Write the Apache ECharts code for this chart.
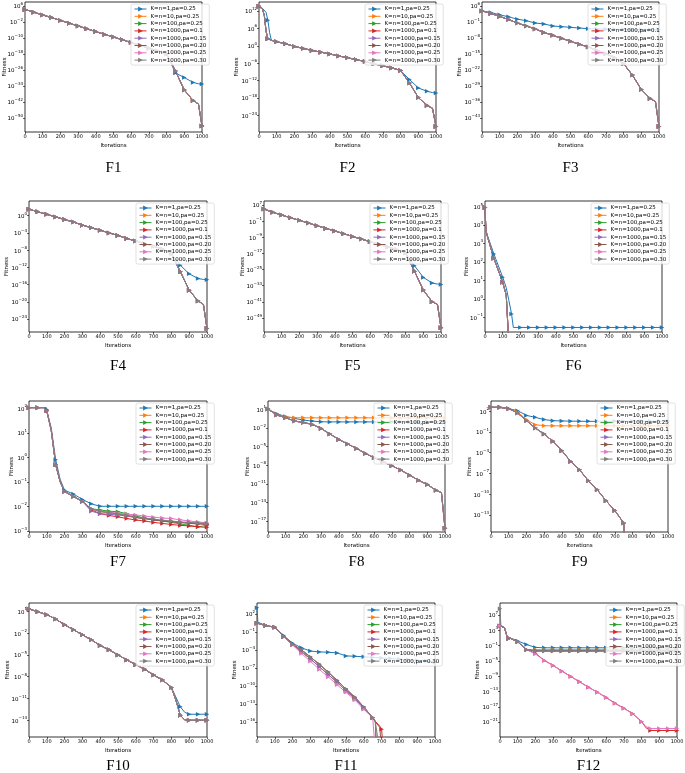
<!DOCTYPE html>
<html><head><meta charset="utf-8">
<script src="https://cdn.jsdelivr.net/npm/echarts@6/dist/echarts.min.js"></script>
<style>html,body{margin:0;padding:0;background:#fff}#c{width:685px;height:773px}</style>
</head><body><div id="c"></div>
<script>
const SERIES_NAMES = ['K=n=1,pa=0.25','K=n=10,pa=0.25','K=n=100,pa=0.25','K=n=1000,pa=0.1','K=n=1000,pa=0.15','K=n=1000,pa=0.20','K=n=1000,pa=0.25','K=n=1000,pa=0.30'];
const COLORS = ['#1f77b4','#ff7f0e','#2ca02c','#d62728','#9467bd','#8c564b','#e377c2','#7f7f7f'];

// ---- F1 ----
const F1_X = [0,50,100,150,200,250,300,350,400,450,500,550,600,650,700,750,800,850,900,950,980,1000];
const F1_K1 = [2e4,7.9e2,31.6,1.58,6.3e-2,2.5e-3,1e-4,4e-6,1.58e-7,6.3e-9,3.16e-10,1.26e-11,5e-13,2e-14,7.9e-16,3.16e-17,1e-18,3.16e-28,1.58e-30,6.3e-33,1.26e-33,1e-33];
const F1_REST = [2e4,7.9e2,31.6,1.58,6.3e-2,2.5e-3,1e-4,4e-6,1.58e-7,6.3e-9,3.16e-10,1.26e-11,5e-13,2e-14,7.9e-16,3.16e-17,1e-18,3.16e-27,1e-36,5e-42,1e-43,1e-54];
const F1_YTICKS = [6,-2,-10,-18,-26,-34,-42,-50];

// ---- F2 ----
const F2_X = [0,10,20,30,40,50,60,70,100,150,200,250,300,350,400,450,500,550,600,650,700,750,800,850,900,950,980,1000];
const F2_K1 = [3.16e13,2e13,7.9e12,2e12,3.16e11,6.3e8,3.16e4,79,31.6,5,0.63,0.126,2.5e-2,6.3e-3,1.58e-3,3.16e-4,7.9e-5,1.58e-5,4e-6,6.3e-7,1.26e-7,2.5e-8,3.16e-9,2.5e-12,3.16e-15,2e-16,7.9e-17,5e-17];
const F2_REST = [4e13,1.58e13,4e12,3.16e10,1e5,2.5e2,1.26e2,79,25,5,0.63,0.126,2.5e-2,6.3e-3,1.58e-3,3.16e-4,7.9e-5,1.58e-5,4e-6,6.3e-7,1.26e-7,2.5e-8,3.16e-9,1.58e-13,1.58e-18,2.5e-21,3.16e-22,1.58e-28];
const F2_YTICKS = [12,6,0,-6,-12,-18,-24];

// ---- F3 ----
const F3_X = [0,50,100,150,200,250,300,350,400,450,500,550,600,650,700,750,800,850,900,950,980,1000];
const F3_K1 = [6.3e3,1.26e3,126,15.8,1.58,0.316,3.16e-2,1.26e-2,1.58e-3,7.9e-4,4e-4,2e-4,1e-4,7.9e-5,6.3e-5,5e-5,5e-5,4e-5,4e-5,3.16e-5,3.16e-5,3.16e-5];
const F3_REST = [6.3e3,5e2,25,1,3.16e-2,1.58e-3,7.9e-5,2.5e-6,1.26e-7,6.3e-9,3.16e-10,1.58e-11,1e-12,3.16e-14,1e-15,2e-17,5e-20,5e-25,2.5e-31,3.16e-35,1.26e-36,1.58e-47];
const F3_YTICKS = [6,-1,-8,-15,-22,-29,-36,-43];

// ---- F4 ----
const F4_X = [0,50,100,150,200,250,300,350,400,450,500,550,600,650,700,750,800,850,900,950,980,1000];
const F4_K1 = [31.6,7.9,2,0.5,0.126,3.16e-2,6.3e-3,1.58e-3,4e-4,1e-4,2.5e-5,5e-6,1.26e-6,3.16e-7,7.9e-8,1.58e-8,1.58e-9,3.16e-12,3.16e-14,2.5e-15,1.58e-15,1.26e-15];
const F4_REST = [31.6,7.9,2,0.5,0.126,3.16e-2,6.3e-3,1.58e-3,4e-4,1e-4,2.5e-5,5e-6,1.26e-6,3.16e-7,7.9e-8,1.58e-8,1.58e-9,1e-13,5e-18,1.58e-20,2.5e-21,6.3e-27];
const F4_YTICKS = [0,-4,-8,-12,-16,-20,-24];

// ---- F5 ----
const F5_X = [0,50,100,150,200,250,300,350,400,450,500,550,600,650,700,750,800,850,900,950,980,1000];
const F5_K1 = [1e5,2.5e3,100,5,0.25,1.26e-2,5e-4,2.5e-5,1.26e-6,6.3e-8,2.5e-9,1.26e-10,6.3e-12,3.16e-13,1.58e-14,6.3e-16,1.58e-17,7.9e-24,1.26e-29,2e-32,6.3e-33,4e-33];
const F5_REST = [1e5,2.5e3,100,5,0.25,1.26e-2,5e-4,2.5e-5,1.26e-6,6.3e-8,2.5e-9,1.26e-10,6.3e-12,3.16e-13,1.58e-14,6.3e-16,1.58e-17,1.58e-26,6.3e-36,1e-41,5e-43,1.26e-54];
const F5_YTICKS = [7,-1,-9,-17,-25,-33,-41,-49];

// ---- F6 ----
const F6_X = [0,5,10,50,100,120,135,150,160,200,250,300,350,400,450,500,550,600,650,700,750,800,850,900,950,1000];
const F6_K1 = [8.9e4,6.3e3,3.5e3,2.7e2,14.8,4,0.79,0.151,2.8e-2,2.8e-2,2.8e-2,2.8e-2,2.8e-2,2.8e-2,2.8e-2,2.8e-2,2.8e-2,2.8e-2,2.8e-2,2.8e-2,2.8e-2,2.8e-2,2.8e-2,2.8e-2,2.8e-2,2.8e-2];
const F6_REST = [8.9e4,5.6e3,3.16e3,158,7.9,1.58,3.16e-3];
const F6_YTICKS = [5,4,3,2,1,0,-1];

// ---- F7 ----
const F7_X = [0,50,95,100,125,150,175,200,250,300,350,400,450,500,550,600,650,700,750,800,850,900,950,1000];
const F7_K1 = [107,107,107,89,15.8,0.79,0.126,4.5e-2,3.16e-2,1.9e-2,1.26e-2,1e-2,1e-2,1e-2,1e-2,1e-2,1e-2,1e-2,1e-2,1e-2,1e-2,1e-2,1e-2,1e-2];
const F7_K10 = [107,107,107,79,12.6,0.5,0.1,4e-2,2.5e-2,1.58e-2,7.9e-3,6.3e-3,5.2e-3,4.7e-3,4e-3,3.5e-3,3.16e-3,2.8e-3,2.6e-3,2.4e-3,2.2e-3,2.1e-3,2e-3,1.9e-3];
const F7_K100 = [107,107,107,79,12.6,0.5,0.1,4e-2,2.5e-2,1.58e-2,7.9e-3,7.1e-3,6.3e-3,6e-3,5e-3,4e-3,3.3e-3,2.8e-3,2.5e-3,2.2e-3,1.9e-3,1.66e-3,1.45e-3,1.66e-3];
const F7_PA10 = [107,107,107,79,12.6,0.5,0.1,4e-2,2.5e-2,1.58e-2,7.1e-3,5e-3,4.2e-3,3.7e-3,3.16e-3,2.75e-3,2.5e-3,2.2e-3,2e-3,1.8e-3,1.66e-3,1.58e-3,1.45e-3,1.38e-3];
const F7_PA15 = [107,107,107,79,12.6,0.5,0.1,4e-2,2.5e-2,1.58e-2,6.3e-3,5e-3,4.7e-3,4.4e-3,4e-3,3.5e-3,3.16e-3,2.8e-3,2.5e-3,2.4e-3,2.2e-3,2.1e-3,2e-3,1.9e-3];
const F7_PA20 = [107,107,107,79,12.6,0.5,0.1,4e-2,2.5e-2,1.58e-2,7.9e-3,6e-3,5.6e-3,5e-3,4.2e-3,3.5e-3,3.16e-3,2.8e-3,2.5e-3,2.3e-3,2.2e-3,2e-3,1.9e-3,1.8e-3];
const F7_PA25 = [107,107,107,79,12.6,0.5,0.1,4e-2,2.5e-2,1.58e-2,7.9e-3,6.3e-3,5.6e-3,5.2e-3,4.8e-3,4.4e-3,4e-3,3.6e-3,3.3e-3,3.16e-3,2.8e-3,2.5e-3,2.3e-3,2.1e-3];
const F7_PA30 = [107,107,107,79,12.6,0.5,0.1,4e-2,2.5e-2,1.58e-2,7.9e-3,6.3e-3,5.5e-3,4.8e-3,4.2e-3,3.7e-3,3.3e-3,3e-3,2.7e-3,2.5e-3,2.3e-3,2.2e-3,2.1e-3,2e-3];
const F7_YTICKS = [2,1,0,-1,-2,-3];

// ---- F8 ----
const F8_X = [0,50,100,150,200,250,300,350,400,450,500,550,600,650,700,750,800,850,900,950,980,1000];
const F8_K1 = [10,1.78,0.66,0.316,0.174,0.12,9.3e-2,8.9e-2,8.9e-2,8.9e-2,8.9e-2,8.9e-2,8.9e-2,8.9e-2,8.9e-2,8.9e-2,8.9e-2,8.9e-2,8.9e-2,8.9e-2,8.9e-2,8.9e-2];
const F8_K10 = [10,1.41,0.59,0.41,0.4,0.4,0.4,0.4,0.4,0.4,0.4,0.4,0.4,0.4,0.4,0.4,0.4,0.4,0.4,0.4,0.4,0.4];
const F8_REST = [10,1.1,0.41,0.12,7.2e-2,3.5e-2,7.9e-3,1e-3,1.38e-4,2.5e-5,5e-6,7.9e-7,1.58e-7,3.6e-8,8.3e-9,1.66e-9,2.6e-10,4e-11,7.9e-12,1e-12,4e-13,7.9e-19];
const F8_YTICKS = [1,-2,-5,-8,-11,-14,-17];

// ---- F9 ----
const F9_X = [0,50,100,150,200,250,300,350,400,450,500,550,600,650,700,750,755,800,850,900,950,1000];
const F9_K1 = [380,380,245,126,26,13.5,6.3,4.5,4,3.8,3.6,3.55,3.55,3.55,3.55,3.55,3.55,3.55,3.55,3.55,3.55,3.55];
const F9_K10 = [380,380,245,79,6.3,1.15,0.83,0.79,0.79,0.79,0.79,0.79,0.79,0.79,0.79,0.79,0.79,0.79,0.79,0.79,0.79,0.79];
const F9_REST = [380,380,245,58,4.5,0.38,5e-2,4.5e-3,2e-4,5.5e-6,3.4e-7,8.7e-9,4.3e-10,1.07e-11,4e-13,6.3e-15,1e-17];
const F9_YTICKS = [2,-1,-4,-7,-10,-13];

// ---- F10 ----
const F10_X = [0,50,100,150,200,250,300,350,400,450,500,550,600,650,700,750,800,825,850,875,900,950,1000];
const F10_K1 = [20.9,8.9,3.47,0.87,0.141,2.9e-2,5.9e-3,1.2e-3,2e-4,5e-5,1e-5,2e-6,4.6e-7,1.05e-7,1.7e-8,3.5e-9,3.3e-10,1.58e-11,7.1e-13,1.26e-13,6.8e-14,6.8e-14,6.8e-14];
const F10_REST = [20.9,8.9,3.47,0.87,0.141,2.9e-2,5.9e-3,1.2e-3,2e-4,5e-5,1e-5,2e-6,4.6e-7,1.05e-7,1.7e-8,3.5e-9,3.3e-10,6.3e-12,5e-14,1.12e-14,1e-14,1e-14,1e-14];
const F10_YTICKS = [1,-2,-5,-8,-11,-14];

// ---- F11 ----
const F11_X = [0,5,50,100,150,200,250,300,350,400,450,500,550,600,650,665,670,690,700,705,710,750,800,850,900,950,1000];
const F11_K1 = [1000,4,1.1,0.575,2.5e-2,1.26e-3,2.2e-4,6.3e-5,4.6e-5,4e-5,3.16e-5,1e-5,8.5e-6,7.1e-6,5.6e-6,5.2e-6,5e-6,4.7e-6,4.5e-6,4.4e-6,4.3e-6,3.5e-6,2.8e-6,2.2e-6,1.78e-6,1.41e-6,1e-6];
const F11_MID = [2.8,2.6,1.1,0.575,1.58e-2,7.9e-4,5e-5,3.16e-6,1.58e-7,7.9e-9,4e-10,1.58e-11,7.9e-13,2e-14,5e-16,1.26e-16,1e-21];
const F11_PA10 = [2.8,2.6,1.1,0.575,1.58e-2,7.9e-4,1e-4,6.3e-6,4e-7,2e-8,7.9e-10,3.16e-11,1.26e-12,3.16e-14,5e-16,1.26e-16,7.9e-17,2e-17,6.3e-18,5e-18,1e-21];
const F11_PA20 = [2.8,2.6,1.1,0.575,1.58e-2,7.9e-4,1e-4,6.3e-6,4e-7,2e-8,7.9e-10,3.16e-11,1.26e-12,3.16e-14,5e-16,1e-16,6.3e-17,1.26e-17,1e-21];
const F11_PA25 = [2.8,2.6,1.1,0.575,1.58e-2,6.3e-4,2.5e-5,1.26e-6,5.6e-8,3.16e-9,1.58e-10,8.5e-12,4.4e-13,1.26e-14,5e-16,1e-21];
const F11_PA30 = [2.8,2.6,1.1,0.575,1.58e-2,7.9e-4,1e-4,6.3e-6,4e-7,2e-8,7.9e-10,3.16e-11,1.26e-12,3.16e-14,5e-16,1e-16,5e-17,1e-21];
const F11_YTICKS = [2,-1,-4,-7,-10,-13,-16];

// ---- F12 ----
const F12_X = [0,5,10,25,40,50,100,150,200,250,300,350,400,450,500,550,600,650,700,750,800,825,850,900,950,1000];
const F12_K1 = [1.26e4,1.58e4,1.58e4,5e3,20,6.9,1.58,0.178,3.16e-2,2.5e-2,2.5e-2,2.5e-2,2.5e-2,2.5e-2,2.5e-2,2.5e-2,2.5e-2,2.5e-2,2.5e-2,2.5e-2,2.5e-2,2.5e-2,2.5e-2,2.5e-2,2.5e-2,2.5e-2];
const F12_K10 = [1.26e4,1.58e4,1.58e4,5e3,20,6.9,0.91,7.9e-3,7.9e-3,7.9e-3,7.9e-3,7.9e-3,7.9e-3,7.9e-3,7.9e-3,7.9e-3,7.9e-3,7.9e-3,7.9e-3,7.9e-3,7.9e-3,7.9e-3,7.9e-3,7.9e-3,7.9e-3,7.9e-3];
const F12_K100 = [1.26e4,1.58e4,1.58e4,5e3,20,6.9,0.91,7.9e-3,5e-3,5e-3,5e-3,5e-3,5e-3,5e-3,5e-3,5e-3,5e-3,5e-3,5e-3,5e-3,5e-3,5e-3,5e-3,5e-3,5e-3,5e-3];
const F12_PA10 = [1.26e4,1.58e4,1.58e4,5e3,20,6.9,0.91,7.9e-3,1e-3,1.26e-5,6.3e-7,2e-8,7.9e-10,3.16e-11,1.26e-12,6.3e-14,2.5e-15,7.9e-17,4e-18,1.58e-19,1.26e-21,3.16e-23,6.3e-24,6.3e-24,6.3e-24,6.3e-24];
const F12_PA15 = [1.26e4,1.58e4,1.58e4,5e3,20,6.9,0.91,7.9e-3,4e-3,4e-3,4e-3,4e-3,4e-3,4e-3,4e-3,4e-3,4e-3,4e-3,4e-3,4e-3,4e-3,4e-3,4e-3,4e-3,4e-3,4e-3];
const F12_PA20 = [1.26e4,1.58e4,1.58e4,5e3,20,6.9,0.91,7.9e-3,3.5e-3,3.5e-3,3.5e-3,3.5e-3,3.5e-3,3.5e-3,3.5e-3,3.5e-3,3.5e-3,3.5e-3,3.5e-3,3.5e-3,3.5e-3,3.5e-3,3.5e-3,3.5e-3,3.5e-3,3.5e-3];
const F12_PA25 = [1.26e4,1.58e4,1.58e4,5e3,20,6.9,0.91,7.9e-3,6.3e-4,1.26e-5,6.3e-7,2e-8,7.9e-10,3.16e-11,1.26e-12,6.3e-14,2.5e-15,7.9e-17,4e-18,1.58e-19,1.26e-21,6.3e-23,2e-23,2e-23,2e-23,2e-23];
const F12_PA30 = [4e8,1.58e4,1.58e4,5e3,20,6.9,0.91,7.9e-3,3.8e-3,3.8e-3,3.8e-3,3.8e-3,3.8e-3,3.8e-3,3.8e-3,3.8e-3,3.8e-3,3.8e-3,3.8e-3,3.8e-3,3.8e-3,3.8e-3,3.8e-3,3.8e-3,3.8e-3,3.8e-3];
const F12_YTICKS = [7,3,-1,-5,-9,-13,-17,-21];

// ---- layout (positions / styles) ----
const PANELS = [
  {label:'F1',  x:F1_X,  ys:[F1_K1,F1_REST,F1_REST,F1_REST,F1_REST,F1_REST,F1_REST,F1_REST], yMin:-57, yMax:8, ticks:F1_YTICKS, g:[25,2,177,130], gap:17, ly:168},
  {label:'F2',  x:F2_X,  ys:[F2_K1,F2_REST,F2_REST,F2_REST,F2_REST,F2_REST,F2_REST,F2_REST], yMin:-29.7, yMax:15.1, ticks:F2_YTICKS, g:[259,2,177,130], gap:19, ly:168},
  {label:'F3',  x:F3_X,  ys:[F3_K1,F3_REST,F3_REST,F3_REST,F3_REST,F3_REST,F3_REST,F3_REST], yMin:-49.2, yMax:7.7, ticks:F3_YTICKS, g:[482,2,177,130], gap:19, ly:168},
  {label:'F4',  x:F4_X,  ys:[F4_K1,F4_REST,F4_REST,F4_REST,F4_REST,F4_REST,F4_REST,F4_REST], yMin:-27, yMax:3.4, ticks:F4_YTICKS, g:[29,201,178,131], gap:19, ly:366},
  {label:'F5',  x:F5_X,  ys:[F5_K1,F5_REST,F5_REST,F5_REST,F5_REST,F5_REST,F5_REST,F5_REST], yMin:-56, yMax:9, ticks:F5_YTICKS, g:[264,201,177,131], gap:18, ly:366},
  {label:'F6',  x:F6_X,  ys:[F6_K1,F6_REST,F6_REST,F6_REST,F6_REST,F6_REST,F6_REST,F6_REST], yMin:-1.8, yMax:5.3, ticks:F6_YTICKS, g:[485,201,177,131], gap:15, ly:366},
  {label:'F7',  x:F7_X,  ys:[F7_K1,F7_K10,F7_K100,F7_PA10,F7_PA15,F7_PA20,F7_PA25,F7_PA30], yMin:-3.05, yMax:2.3, ticks:F7_YTICKS, g:[29,401,178,131], gap:14, ly:562},
  {label:'F8',  x:F8_X,  ys:[F8_K1,F8_K10,F8_REST,F8_REST,F8_REST,F8_REST,F8_REST,F8_REST], yMin:-18.7, yMax:2.3, ticks:F8_YTICKS, g:[268,401,177,131], gap:17, ly:562},
  {label:'F9',  x:F9_X,  ys:[F9_K1,F9_K10,F9_REST,F9_REST,F9_REST,F9_REST,F9_REST,F9_REST], yMin:-15.5, yMax:3.5, ticks:F9_YTICKS, g:[491,401,177,131], gap:18, ly:562},
  {label:'F10', x:F10_X, ys:[F10_K1,F10_REST,F10_REST,F10_REST,F10_REST,F10_REST,F10_REST,F10_REST], yMin:-16.3, yMax:2.15, ticks:F10_YTICKS, g:[29,603,178,134], gap:18, ly:766},
  {label:'F11', x:F11_X, ys:[F11_K1,F11_MID,F11_MID,F11_PA10,F11_MID,F11_PA20,F11_PA25,F11_PA30], yMin:-18.5, yMax:3.8, ticks:F11_YTICKS, g:[257,603,178,134], gap:19, ly:766},
  {label:'F12', x:F12_X, ys:[F12_K1,F12_K10,F12_K100,F12_PA10,F12_PA15,F12_PA20,F12_PA25,F12_PA30], yMin:-24.9, yMax:10.1, ticks:F12_YTICKS, g:[500,603,177,134], gap:19, ly:766}
];

const FONT = 'DejaVu Sans';
const supLabel = v => {
  const e = Math.round(v);
  return '{b|10}{s|' + (e < 0 ? '\u2212' + (-e) : e) + '}';
};

const grid = [], xAxis = [], yAxis = [], series = [], legend = [], graphic = [];
PANELS.forEach((p, i) => {
  const [l, t, w, h] = p.g;
  grid.push({left:l, top:t, width:w, height:h, show:true, borderColor:'#000', borderWidth:0.8,
             backgroundColor:'transparent', containLabel:false, outerBoundsMode:'none'});
  xAxis.push({gridIndex:i, type:'value', min:0, max:1000, interval:100,
    name:'Iterations', nameLocation:'middle', nameGap:11, nameMoveOverlap:false,
    nameTextStyle:{fontSize:5.5, fontFamily:FONT, color:'#000'},
    axisLine:{show:false, onZero:false}, axisTick:{show:true, length:2, lineStyle:{color:'#000', width:0.6}},
    axisLabel:{fontSize:5, margin:2.5, color:'#000', fontFamily:FONT, showMinLabel:true, showMaxLabel:true,
               formatter: v => String(v)},
    splitLine:{show:false}});
  yAxis.push({gridIndex:i, type:'value', min:p.yMin, max:p.yMax,
    name:'Fitness', nameLocation:'middle', nameGap:p.gap, nameMoveOverlap:false,
    nameTextStyle:{fontSize:5.5, fontFamily:FONT, color:'#000'},
    axisLine:{show:false, onZero:false},
    axisTick:{show:true, length:2, customValues:p.ticks, lineStyle:{color:'#000', width:0.6}},
    axisLabel:{customValues:p.ticks, margin:2, formatter:supLabel,
      rich:{b:{fontSize:5.5, fontFamily:FONT, color:'#000', lineHeight:8, verticalAlign:'bottom'},
            s:{fontSize:4, fontFamily:FONT, color:'#000', lineHeight:4, verticalAlign:'top'}}},
    splitLine:{show:false}});
  p.ys.forEach((vals, k) => {
    const data = [];
    vals.forEach((v, j) => {
      if (v == null) return;
      const xv = p.x[j];
      data.push({value:[xv, Math.log10(v)], symbol: xv % 50 === 0 ? 'triangle' : 'none'});
    });
    series.push({type:'line', name:SERIES_NAMES[k], xAxisIndex:i, yAxisIndex:i, data,
      symbol:'triangle', symbolSize:4.5, symbolRotate:-90, showAllSymbol:true,
      lineStyle:{width:1, color:COLORS[k]}, itemStyle:{color:COLORS[k]},
      clip:true, animation:false});
  });
  legend.push({left:l + w - 71, top:t + 2, orient:'vertical', itemWidth:12, itemHeight:6, itemGap:1.3,
    textStyle:{fontSize:5.5, fontFamily:FONT, color:'#000', padding:[0,0,0,-1]},
    lineStyle:{width:1},
    padding:[2,3,2,3], borderColor:'#cccccc', borderWidth:0.6, borderRadius:2,
    backgroundColor:'rgba(255,255,255,0.8)', selectedMode:false, data:SERIES_NAMES});
  graphic.push({type:'text', x:l + w / 2, y:p.ly,
    style:{text:p.label, fontSize:15, fontFamily:'Liberation Serif', fill:'#000',
           textAlign:'center', textVerticalAlign:'middle', align:'center', verticalAlign:'middle'}});
});

const chart = echarts.init(document.getElementById('c'), null, {renderer:'canvas'});
chart.setOption({animation:false, backgroundColor:'#fff', color:COLORS,
  grid, xAxis, yAxis, series, legend, graphic});
</script>
</body></html>
